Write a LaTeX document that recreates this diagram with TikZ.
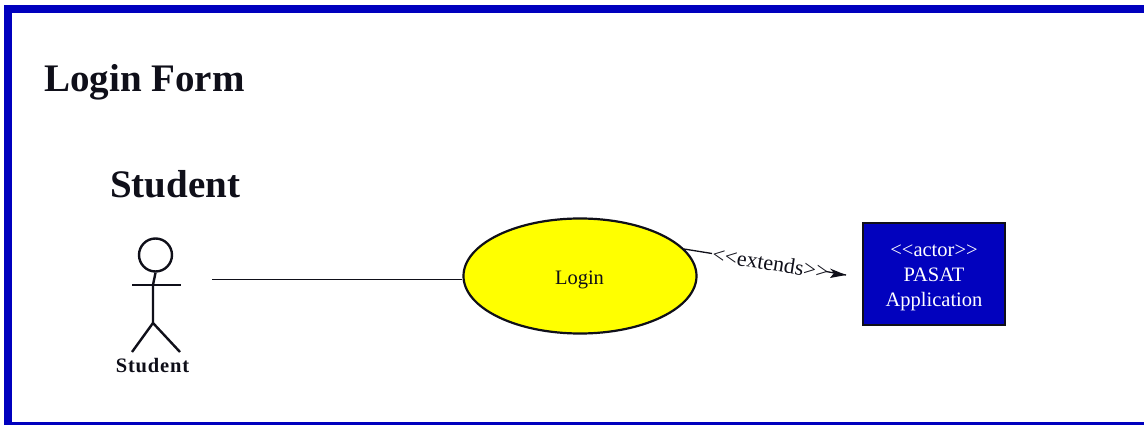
\documentclass[tikz,border=0pt]{standalone}
\usepackage{fontspec}
\usetikzlibrary{shapes.geometric}
\setmainfont{Liberation Serif}
\definecolor{frameblue}{RGB}{0,0,190}
\definecolor{boxblue}{RGB}{2,2,190}
\definecolor{usecase}{RGB}{255,255,0}
\definecolor{ink}{RGB}{15,15,25}
\tikzset{
  heading/.style={inner sep=0pt,anchor=base west,text=ink,font=\bfseries\fontsize{39}{42}\selectfont},
  stick/.style={draw=ink,line width=2.4pt},
  link/.style={draw=ink,line width=1.3pt},
}
\begin{document}
\begin{tikzpicture}[x=1pt,y=-1pt]
\useasboundingbox (0,0) rectangle (1144,425);
\fill[white] (0,0) rectangle (1144,425);
% frame
\fill[frameblue] (4,5) rectangle (1144,13);
\fill[frameblue] (4,5) rectangle (11.5,425);
\fill[frameblue] (4,422) rectangle (1144,425);
\node[heading] (title) at (44,91.5) {Login Form};
\node[heading] (heading) at (110,197) {Student};
% actor
\node[stick,circle,minimum size=33pt,inner sep=0pt] (head) at (155.5,255) {};
\coordinate (hip) at (153,323);
\coordinate (armL) at (132,285);
\coordinate (armR) at (181,285);
\coordinate (footL) at (132,352);
\coordinate (footR) at (180,352);
\draw[stick] (head.south) -- (153,285) -- (hip);
\draw[stick] (armL) -- (armR);
\draw[stick] (footL) -- (hip) -- (footR);
\node[inner sep=0pt,anchor=base,text=ink,font=\bfseries\fontsize{20.5}{24}\selectfont\addfontfeature{LetterSpace=4}] (actorlabel) at (152.5,372.5) {Student};
% use case
\node[draw=ink,line width=2.2pt,fill=usecase,ellipse,minimum width=233pt,minimum height=115pt,inner sep=0pt] (login) at (580,276) {};
\node[inner sep=0pt,anchor=base,text=ink,font=\fontsize{20.5}{22}\selectfont] (loginlabel) at (579.5,284) {Login};
\coordinate (linestart) at (212,279.5);
\draw[link] (linestart) -- (login.west |- linestart);
% actor box
\node[draw=ink,line width=1.6pt,fill=boxblue,minimum width=142pt,minimum height=102pt,inner sep=0pt] (pasat) at (934,274) {};
\node[text=white,inner sep=0pt,align=center,font=\fontsize{20.5}{25}\selectfont] (pasatlabel) at (934,277.5) {<{}<actor>{}>\\PASAT\\Application};
% extends
\coordinate (usestart) at (684,249);
\coordinate (labelstart) at (712,253.5);
\coordinate (shaftstart) at (826,271.5);
\coordinate (tip) at (846,275);
\draw[link] (usestart) -- (labelstart);
\node[rotate=-9,inner sep=0pt,text=ink,font=\fontsize{22}{24}\selectfont] (extends) at (770.5,263) {<{}<extends>{}>};
\draw[link] (shaftstart) -- (tip);
\fill[ink] (tip) -- (830,268.5) -- (834,273) -- (830,278) -- cycle;
\end{tikzpicture}
\end{document}
